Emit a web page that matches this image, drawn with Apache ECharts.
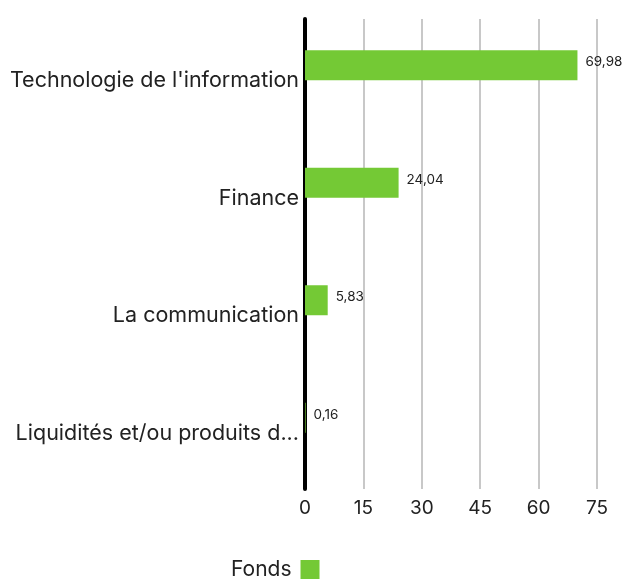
<!DOCTYPE html>
<html>
<head>
<meta charset="utf-8">
<script src="https://cdn.jsdelivr.net/npm/echarts@6/dist/echarts.min.js"></script>
<style>
  html, body { margin: 0; padding: 0; background: #fff; }
</style>
</head>
<body>
<div id="main" style="width: 625px; height: 579px;"></div>
<script>
// données du graphique
const categories = ["Technologie de l'information", 'Finance', 'La communication', 'Liquidités et/ou produits d...']
const fondsValues = [69.98, 24.04, 5.83, 0.16]
const xTicks = { min: 0, max: 75, interval: 15 }
const seriesName = 'Fonds'

const font = 'Inter'
const chart = echarts.init(document.getElementById('main'))
chart.setOption({
  animation: false,
  textStyle: { fontFamily: font },
  grid: { left: 305, right: 28, top: 19, bottom: 90, containLabel: false },
  legend: {
    data: [seriesName],
    left: 226,
    top: 554,
    align: 'right',
    itemWidth: 19,
    itemHeight: 19,
    itemGap: 9,
    icon: 'rect',
    textStyle: { fontSize: 21, color: '#222', fontFamily: font, padding: [0, 4, 0, 0] }
  },
  xAxis: {
    type: 'value',
    min: xTicks.min,
    max: xTicks.max,
    interval: xTicks.interval,
    axisLine: { show: false },
    axisTick: { show: false },
    splitLine: { lineStyle: { color: '#c8c8c8', width: 2 } },
    axisLabel: { fontSize: 19, color: '#222', margin: 10 }
  },
  yAxis: {
    type: 'category',
    inverse: true,
    data: categories,
    axisLine: { lineStyle: { color: '#000', width: 4 } },
    axisTick: { show: false },
    axisLabel: {
      margin: 6,
      formatter: v => '{c|' + v + '}',
      rich: { c: { fontSize: 21.5, color: '#222', fontFamily: font, padding: [6, 0, 0, 0] } }
    }
  },
  series: [{
    name: seriesName,
    type: 'bar',
    data: fondsValues,
    barWidth: 30,
    barGap: 0,
    itemStyle: { color: '#74c935' },
    label: {
      show: true,
      position: 'right',
      distance: 8,
      offset: [0, -3],
      fontSize: 13.5,
      color: '#222',
      formatter: p => String(p.value).replace('.', ',')
    }
  }, {
    // emplacement vide du groupe (décale les barres vers le haut)
    name: 'vide',
    type: 'bar',
    data: categories.map(() => null),
    barWidth: 25,
    silent: true
  }]
})
</script>
</body>
</html>
